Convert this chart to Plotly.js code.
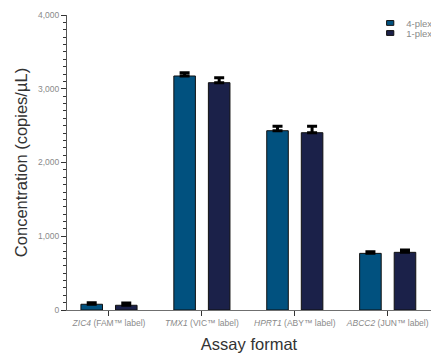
<!DOCTYPE html>
<html>
<head>
<meta charset="utf-8">
<script src="https://cdn.plot.ly/plotly-3.0.1.min.js"></script>
<style>
  html, body { margin: 0; padding: 0; background: #fff; }
  #chart { width: 431px; height: 353px; }
</style>
</head>
<body>
<div id="chart"></div>
<script>
// Assays (target gene + dye label) and measured concentrations, copies/µL
const categories = ['ZIC4', 'TMX1', 'HPRT1', 'ABCC2'];
const tickLabels = [
  '<i>ZIC4</i> (FAM\u2122 label)',
  '<i>TMX1</i> (VIC\u2122 label)',
  '<i>HPRT1</i> (ABY\u2122 label)',
  '<i>ABCC2</i> (JUN\u2122 label)'
];
const seriesNames = ['4-plex', '1-plex'];
const fourPlex = [78, 3173, 2431, 768];
const fourPlexErr = [22, 45, 62, 22];
const onePlex = [64, 3082, 2404, 782];
const onePlexErr = [30, 68, 87, 30];
const noLowerErr = [0, 0, 0, 0];

const colors = ['#01517f', '#1b2149'];
const labelFont = { family: 'Liberation Sans, Arial, sans-serif', size: 8.5, color: '#8a8a8a' };
const titleFont = { family: 'Liberation Sans, Arial, sans-serif', size: 16.5, color: '#333333' };

function barTrace(name, values, errs, color, legendId) {
  return {
    type: 'bar',
    name: name,
    x: categories,
    y: values,
    legend: legendId,
    marker: { color: color, line: { color: '#111111', width: 1 } },
    error_y: {
      type: 'data', symmetric: false, array: errs, arrayminus: noLowerErr,
      color: '#000000', thickness: 3, width: 5
    },
    hoverinfo: 'skip'
  };
}

const data = [
  barTrace(seriesNames[0], fourPlex, fourPlexErr, colors[0], 'legend'),
  barTrace(seriesNames[1], onePlex, onePlexErr, colors[1], 'legend2')
];

const legendBase = {
  xanchor: 'left', yanchor: 'middle', x: 0.822,
  bgcolor: 'rgba(0,0,0,0)', borderwidth: 0,
  font: { family: 'Liberation Sans, Arial, sans-serif', size: 9.5, color: '#8a8a8a' }
};

const layout = {
  width: 431, height: 353,
  margin: { l: 67, r: 0, t: 15, b: 43, autoexpand: false },
  paper_bgcolor: '#ffffff', plot_bgcolor: '#ffffff',
  barmode: 'group', bargap: 0.256, bargroupgap: 0.376,
  showlegend: true,
  legend: Object.assign({}, legendBase, { y: 0.973 }),
  legend2: Object.assign({}, legendBase, { y: 0.939 }),
  xaxis: {
    type: 'category',
    range: [-0.452, 3.466],
    tickmode: 'array', tickvals: categories, ticktext: tickLabels,
    showline: true, linecolor: '#6f6f6f', linewidth: 1,
    ticks: 'outside', ticklen: 5, tickcolor: '#333333', tickwidth: 1,
    tickfont: labelFont,
    showgrid: false, zeroline: false,
    title: { text: 'Assay format', font: titleFont, standoff: 11 }
  },
  yaxis: {
    range: [0, 4000],
    dtick: 1000, tickformat: ',d',
    showline: true, linecolor: '#555555', linewidth: 1,
    ticks: 'outside', ticklen: 5, tickcolor: '#333333', tickwidth: 1,
    minor: { dtick: 100, ticks: 'outside', ticklen: 3, tickcolor: '#333333', tickwidth: 1, showgrid: false },
    tickfont: labelFont,
    showgrid: false, zeroline: false,
    title: { text: 'Concentration (copies/\u00b5L)', font: titleFont, standoff: 6 }
  }
};

Plotly.newPlot('chart', data, layout, { staticPlot: true, displayModeBar: false }).then(function () {
  // flatten the legend swatches into small bars sitting close to their labels
  document.querySelectorAll('.legendpoints path').forEach(function (p) {
    p.setAttribute('transform', 'translate(24,0) scale(0.6,0.4)');
    p.setAttribute('vector-effect', 'non-scaling-stroke');
  });
});
</script>
</body>
</html>
